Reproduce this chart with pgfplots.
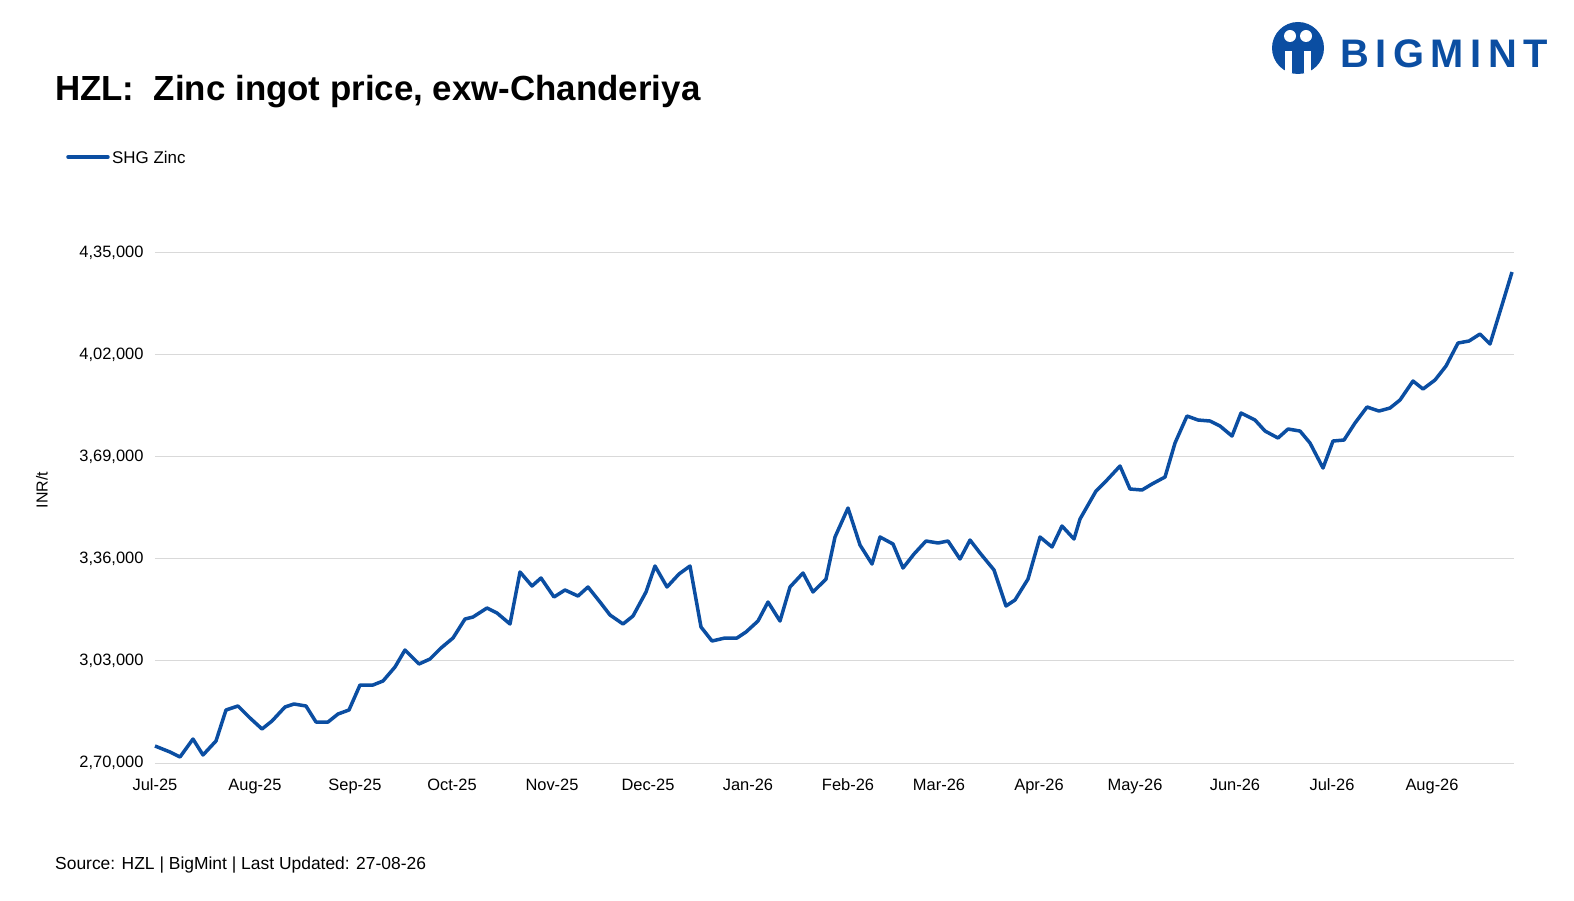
\documentclass[border=0pt]{standalone}
\usepackage{pgfplots}
\pgfplotsset{compat=1.18}
\usepackage{fontspec}
\setmainfont{Liberation Sans}
\definecolor{zinc}{HTML}{0B4EA2}
\definecolor{gridc}{HTML}{D9D9D9}
\begin{document}
\begin{tikzpicture}[x=1bp,y=1bp]
\useasboundingbox (-155,-137) rectangle (1419,763);
\begin{axis}[at={(0,0)},anchor=origin,scale only axis,width=1359bp,height=510bp,
 xmin=155,xmax=1514,ymin=270000,ymax=435000,
 axis line style={draw=none},
 scaled y ticks=false,
 xtick={155,255,355,452,552,648,748,848,939,1039,1135,1235,1332,1432},
 xticklabels={Jul-25,Aug-25,Sep-25,Oct-25,Nov-25,Dec-25,Jan-26,Feb-26,Mar-26,Apr-26,May-26,Jun-26,Jul-26,Aug-26},
 ytick={270000,303000,336000,369000,402000,435000},
 yticklabels={2{,}70{,}000,3{,}03{,}000,3{,}36{,}000,3{,}69{,}000,4{,}02{,}000,4{,}35{,}000},
 ymajorgrids, grid style={gridc,line width=1bp},
 major tick length=0pt,
 tick label style={font=\fontsize{16.5}{16.5}\selectfont},
 xticklabel style={anchor=base,yshift=-27bp},
 yticklabel style={xshift=-8bp},
 clip=false]
\addplot[zinc,line width=3.5bp,line join=round] coordinates {
(155,275500)(170,273560)(180,271940)(193,277760)(203,272590)(216,277120)(226,287150)(238,288440)(250,284560)(262,281000)(272,283590)(285,288120)(294,289090)(306,288440)(316,283260)(328,283260)(338,285850)(349,287150)(360,295230)(373,295230)(383,296530)(395,301060)(405,306560)(419,302030)(430,303640)(441,307200)(453,310440)(465,316580)(473,317230)(487,320140)(497,318530)(510,314970)(520,331790)(532,327260)(541,329850)(554,323700)(565,325970)(578,324020)(588,326940)(600,322080)(610,317880)(623,314970)(633,317550)(646,325320)(655,333730)(667,326940)(679,331140)(690,333730)(701,314000)(712,309470)(725,310440)(737,310440)(746,312380)(758,315940)(768,322080)(780,315940)(790,326940)(803,331470)(813,325320)(826,329520)(835,343110)(848,352490)(860,340520)(872,334380)(880,343110)(893,340850)(903,333080)(914,337610)(926,341820)(938,341170)(948,341820)(960,336000)(970,342140)(980,337940)(994,332440)(1006,320790)(1015,322730)(1028,329520)(1040,343110)(1052,339880)(1062,346670)(1074,342460)(1080,348930)(1096,357990)(1107,361550)(1120,366080)(1130,358640)(1142,358320)(1152,360260)(1165,362520)(1175,373520)(1187,382260)(1198,380960)(1210,380640)(1220,379020)(1232,375780)(1241,383230)(1255,380960)(1265,377400)(1278,375140)(1288,378050)(1300,377400)(1310,373520)(1323,365430)(1333,374170)(1344,374490)(1355,379990)(1367,385170)(1379,383870)(1390,384840)(1400,387430)(1413,393580)(1423,390990)(1435,393900)(1446,398430)(1458,405870)(1469,406520)(1480,408780)(1490,405550)(1502,418160)(1512,428840)};
\end{axis}
\node[anchor=west,font=\fontsize{35}{35}\selectfont\bfseries,inner sep=0pt] at (-100,671) {HZL:\ \ Zinc ingot price, exw-Chanderiya};
\draw[zinc,line width=3.5bp,line cap=round] (-87,606) -- (-47,606);
\node[anchor=west,font=\fontsize{17}{17}\selectfont,inner sep=1pt] at (-44,606) {SHG Zinc};
\node[rotate=90,font=\fontsize{16}{16}\selectfont] at (-113,273) {INR/t};
\node[anchor=west,font=\fontsize{17.5}{17.5}\selectfont,inner sep=0pt] at (-100,-102) {Source: HZL | BigMint | Last Updated: 27-08-26};
\fill[zinc] (1143,715) circle (26);
\fill[white] (1135,727) circle (6); \fill[white] (1151,727) circle (6);
\fill[white] (1130,690) rectangle (1156,712);
\fill[zinc] (1137,690) rectangle (1149,712);
\node[anchor=west,zinc,font=\fontsize{40}{40}\selectfont\bfseries,inner sep=0pt] at (1185,709) {B\,I\,G\,M\,I\,N\,T};
\end{tikzpicture}
\end{document}
